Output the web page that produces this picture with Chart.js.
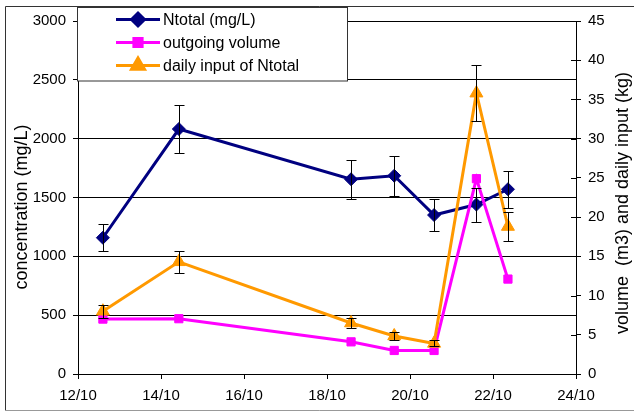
<!DOCTYPE html>
<html lang="en">
<head>
<meta charset="UTF-8">
<title>Ntotal concentration, outgoing volume and daily input</title>
<script src="https://cdn.jsdelivr.net/npm/chart.js"></script>
<style>
  body { margin: 0; background: #fff; }
  canvas { display: block; }
</style>
</head>
<body>
<canvas id="chart" width="634" height="414"></canvas>
<script>
// sampling times, day of October
var days = [12.6, 14.43, 18.58, 19.62, 20.58, 21.6, 22.36];

// Ntotal concentration (mg/L) with error
var ntotal    = [1158, 2082, 1655, 1685, 1351, 1440, 1570];
var ntotalErr = [116, 208, 166, 169, 135, 144, 157];

// outgoing volume (m3)
var volume = [7.0, 7.05, 4.1, 3.0, 3.0, 24.9, 12.1];

// daily input of Ntotal (kg) with error
var input    = [8.0, 14.3, 6.5, 4.85, 3.9, 35.8, 18.8];
var inputErr = [0.8, 1.43, 0.65, 0.49, 0.39, 3.58, 1.88];

var xTickValues = [12, 14, 16, 18, 20, 22, 24];
var xTickLabels = ['12/10', '14/10', '16/10', '18/10', '20/10', '22/10', '24/10'];

var seriesNames = ['Ntotal (mg/L)', 'outgoing volume', 'daily input of Ntotal'];
var leftTitle = 'concentration (mg/L)';
var rightTitle = 'volume  (m3) and daily input (kg)';

var FONT = "'Liberation Sans', Arial, sans-serif";
Chart.defaults.font.family = FONT;
Chart.defaults.color = '#000';

function pts(ys) {
	return days.map(function (d, i) { return { x: d, y: ys[i] }; });
}

function plain(v) { return String(v); }

// white page with the outer frame
var framePlugin = {
	id: 'frame',
	beforeDraw: function (chart) {
		var ctx = chart.ctx;
		ctx.save();
		ctx.fillStyle = '#fff';
		ctx.fillRect(0, 0, chart.width, chart.height);
		ctx.lineWidth = 1;
		ctx.strokeStyle = '#333';
		ctx.beginPath();
		ctx.moveTo(chart.width, 6.5);
		ctx.lineTo(5.5, 6.5);
		ctx.lineTo(5.5, 410.5);
		ctx.stroke();
		ctx.strokeStyle = '#999';
		ctx.beginPath();
		ctx.moveTo(5.5, 410.5);
		ctx.lineTo(chart.width, 410.5);
		ctx.stroke();
		ctx.restore();
	}
};

// vertical error bars with caps
var errorBarPlugin = {
	id: 'errorBars',
	afterDatasetsDraw: function (chart) {
		var ctx = chart.ctx;
		ctx.save();
		ctx.strokeStyle = '#000';
		ctx.lineWidth = 1;
		chart.data.datasets.forEach(function (ds) {
			if (!ds.errors) return;
			var xs = chart.scales.x, ys = chart.scales[ds.yAxisID];
			ds.data.forEach(function (p, i) {
				var px = Math.round(xs.getPixelForValue(p.x)) + 0.5;
				var top = Math.round(ys.getPixelForValue(p.y + ds.errors[i])) + 0.5;
				var bot = Math.round(ys.getPixelForValue(p.y - ds.errors[i])) + 0.5;
				ctx.beginPath();
				ctx.moveTo(px, top); ctx.lineTo(px, bot);
				ctx.moveTo(px - 5, top); ctx.lineTo(px + 5, top);
				ctx.moveTo(px - 5, bot); ctx.lineTo(px + 5, bot);
				ctx.stroke();
			});
		});
		ctx.restore();
	}
};

// axis titles, legend box, right-axis tick marks crossing the axis
var decorPlugin = {
	id: 'decor',
	afterDraw: function (chart) {
		var ctx = chart.ctx;
		var area = chart.chartArea;
		var y1 = chart.scales.y1;
		ctx.save();

		// inner half of right-axis ticks
		ctx.strokeStyle = '#000';
		ctx.lineWidth = 1;
		ctx.beginPath();
		y1.ticks.forEach(function (t) {
			var py = Math.round(y1.getPixelForValue(t.value)) + 0.5;
			ctx.moveTo(area.right - 5, py);
			ctx.lineTo(area.right, py);
		});
		ctx.stroke();

		// axis titles
		ctx.fillStyle = '#000';
		ctx.font = '18px ' + FONT;
		ctx.textAlign = 'center';
		ctx.textBaseline = 'middle';
		ctx.save();
		ctx.translate(22, 207);
		ctx.rotate(-Math.PI / 2);
		ctx.fillText(leftTitle, 0, 0);
		ctx.restore();
		ctx.save();
		ctx.translate(623, 203);
		ctx.rotate(-Math.PI / 2);
		ctx.fillText(rightTitle, 0, 0);
		ctx.restore();

		// legend box
		ctx.fillStyle = '#fff';
		ctx.fillRect(77.5, 7.5, 270, 73.5);
		ctx.strokeStyle = '#333';
		ctx.strokeRect(77.5, 7.5, 270, 73.5);
		ctx.font = '16px ' + FONT;
		ctx.textAlign = 'left';
		chart.data.datasets.forEach(function (ds, i) {
			var cy = 19.5 + i * 23;
			ctx.strokeStyle = ds.borderColor;
			ctx.lineWidth = 3;
			ctx.beginPath();
			ctx.moveTo(116, cy); ctx.lineTo(160, cy);
			ctx.stroke();
			Chart.helpers.drawPoint(ctx, {
				pointStyle: ds.pointStyle,
				radius: ds.pointRadius,
				borderWidth: 1,
				rotation: 0
			}, 138, cy);
			ctx.fillStyle = ds.borderColor;
			ctx.fill();
			ctx.fillStyle = '#000';
			ctx.fillText(seriesNames[i], 163, cy + 1);
		});
		ctx.restore();
	}
};

new Chart(document.getElementById('chart'), {
	type: 'line',
	data: {
		datasets: [{
			label: seriesNames[0],
			data: pts(ntotal),
			errors: ntotalErr,
			yAxisID: 'y',
			borderColor: '#000080',
			backgroundColor: '#000080',
			borderWidth: 3,
			pointStyle: 'rectRot',
			pointRadius: 6.5,
			pointBorderWidth: 1,
			order: 3
		}, {
			label: seriesNames[1],
			data: pts(volume),
			yAxisID: 'y1',
			borderColor: '#ff00ff',
			backgroundColor: '#ff00ff',
			borderWidth: 3,
			pointStyle: 'rect',
			pointRadius: 5.8,
			pointBorderWidth: 1,
			order: 2
		}, {
			label: seriesNames[2],
			data: pts(input),
			errors: inputErr,
			yAxisID: 'y1',
			borderColor: '#ff9900',
			backgroundColor: '#ff9900',
			borderWidth: 3,
			pointStyle: 'triangle',
			pointRadius: 7.5,
			pointBorderWidth: 1,
			order: 1
		}]
	},
	options: {
		responsive: false,
		animation: false,
		events: [],
		layout: { padding: { top: 21, left: 0, right: 0, bottom: 0 } },
		elements: { line: { tension: 0 } },
		plugins: {
			legend: { display: false },
			tooltip: { enabled: false }
		},
		scales: {
			x: {
				type: 'linear',
				min: 12,
				max: 24,
				afterBuildTicks: function (s) {
					s.ticks = xTickValues.map(function (v) { return { value: v }; });
				},
				ticks: {
					font: { size: 15 },
					padding: 8,
					maxRotation: 0,
					callback: function (v) { return xTickLabels[xTickValues.indexOf(v)]; }
				},
				grid: { drawOnChartArea: false, tickLength: 5, color: '#000' },
				border: { color: '#000' },
				afterFit: function (s) { s.height = 40; }
			},
			y: {
				position: 'left',
				min: 0,
				max: 3000,
				ticks: { stepSize: 500, font: { size: 15 }, padding: 7, callback: plain },
				grid: { color: '#000', tickLength: 5 },
				border: { color: '#000' },
				afterFit: function (s) { s.width = 78; }
			},
			y1: {
				position: 'right',
				min: 0,
				max: 45,
				ticks: { stepSize: 5, font: { size: 15 }, padding: 7, callback: plain },
				grid: { drawOnChartArea: false, color: '#000', tickLength: 5 },
				border: { color: '#000' },
				afterFit: function (s) { s.width = 58; }
			}
		}
	},
	plugins: [framePlugin, errorBarPlugin, decorPlugin]
});
</script>
</body>
</html>
